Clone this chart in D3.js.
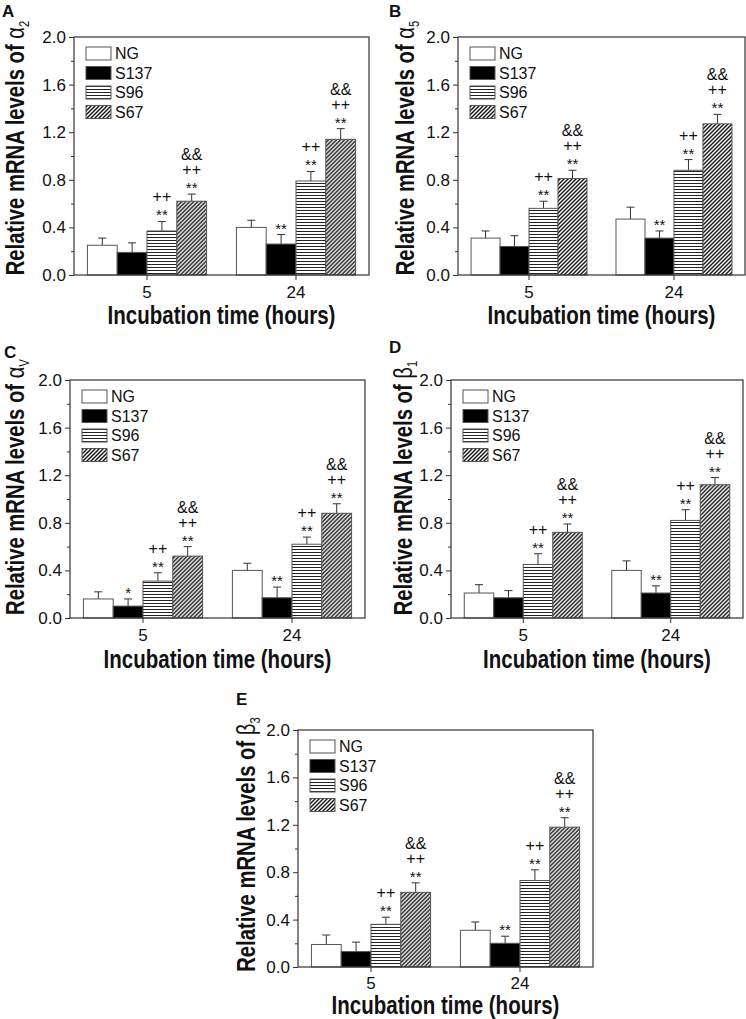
<!DOCTYPE html>
<html>
<head>
<meta charset="utf-8">
<script src="https://cdn.jsdelivr.net/npm/d3@7"></script>
<style>
  body { margin: 0; background: #fff; }
  text { font-family: "Liberation Sans", Arial, sans-serif; }
</style>
</head>
<body>
<script>

// Categories and tick labels
var groups = ["5", "24"];
var series = ["NG", "S137", "S96", "S67"];
var yTicks = [0.0, 0.4, 0.8, 1.2, 1.6, 2.0];
var yMinorTicks = [0.2, 0.6, 1.0, 1.4, 1.8];

// Means (rows = incubation time, columns = series)
var alpha2Mean = [[0.25, 0.19, 0.37, 0.62], [0.40, 0.26, 0.79, 1.14]];
var alpha2Err  = [[0.06, 0.08, 0.08, 0.06], [0.06, 0.08, 0.08, 0.09]];
var alpha2Sig  = [["", "", "**,++", "**,++,&&"], ["", "**", "**,++", "**,++,&&"]];

var alpha5Mean = [[0.31, 0.24, 0.56, 0.81], [0.47, 0.31, 0.88, 1.27]];
var alpha5Err  = [[0.06, 0.09, 0.06, 0.07], [0.10, 0.06, 0.09, 0.08]];
var alpha5Sig  = [["", "", "**,++", "**,++,&&"], ["", "**", "**,++", "**,++,&&"]];

var alphaVMean = [[0.16, 0.10, 0.31, 0.52], [0.40, 0.17, 0.62, 0.88]];
var alphaVErr  = [[0.06, 0.06, 0.07, 0.08], [0.06, 0.09, 0.06, 0.08]];
var alphaVSig  = [["", "*", "**,++", "**,++,&&"], ["", "**", "**,++", "**,++,&&"]];

var beta1Mean = [[0.21, 0.17, 0.45, 0.72], [0.40, 0.21, 0.82, 1.12]];
var beta1Err  = [[0.07, 0.06, 0.09, 0.07], [0.08, 0.06, 0.09, 0.06]];
var beta1Sig  = [["", "", "**,++", "**,++,&&"], ["", "**", "**,++", "**,++,&&"]];

var beta3Mean = [[0.19, 0.13, 0.36, 0.63], [0.31, 0.20, 0.73, 1.18]];
var beta3Err  = [[0.08, 0.08, 0.06, 0.08], [0.07, 0.06, 0.09, 0.08]];
var beta3Sig  = [["", "", "**,++", "**,++,&&"], ["", "**", "**,++", "**,++,&&"]];


// Panel layout
var panels = [
    { letter: "A", greek: "\u03B1", sub: "2", mean: alpha2Mean, err: alpha2Err, sig: alpha2Sig,
      left: 74, right: 369, top: 37, bottom: 275, lx: 2, ly: 17, tx: 24, ty: -8, tickPad: 6, titleDy: 49 },
    { letter: "B", greek: "\u03B1", sub: "5", mean: alpha5Mean, err: alpha5Err, sig: alpha5Sig,
      left: 458, right: 745, top: 37, bottom: 275, lx: 389, ly: 17, tx: 414, ty: -8, tickPad: 6, titleDy: 49 },
    { letter: "C", greek: "\u03B1", sub: "V", mean: alphaVMean, err: alphaVErr, sig: alphaVSig,
      left: 70, right: 365, top: 380, bottom: 618, lx: 4, ly: 358, tx: 24, ty: -12, tickPad: 6, titleDy: 50 },
    { letter: "D", greek: "\u03B2", sub: "1", mean: beta1Mean, err: beta1Err, sig: beta1Sig,
      left: 451, right: 743, top: 380, bottom: 618, lx: 389, ly: 353, tx: 412, ty: -11, tickPad: 6, titleDy: 50 },
    { letter: "E", greek: "\u03B2", sub: "3", mean: beta3Mean, err: beta3Err, sig: beta3Sig,
      left: 298, right: 593, top: 730, bottom: 967, lx: 236, ly: 705, tx: 255, ty: -4, tickPad: 5, titleDy: 47 }
];

var fills = { NG: "#fff", S137: "#000", S96: "url(#hlines)", S67: "url(#diag)" };

var svg = d3.select("body").append("svg")
            .attr("width", 746)
            .attr("height", 1019);

var defs = svg.append("defs");

var hl = defs.append("pattern")
    .attr("id", "hlines")
    .attr("patternUnits", "userSpaceOnUse")
    .attr("width", 6).attr("height", 3);
hl.append("rect").attr("width", 6).attr("height", 3).attr("fill", "#fff");
hl.append("line").attr("x1", 0).attr("x2", 6).attr("y1", 0.5).attr("y2", 0.5)
  .attr("stroke", "#222").attr("stroke-width", 1);

var dg = defs.append("pattern")
    .attr("id", "diag")
    .attr("patternUnits", "userSpaceOnUse")
    .attr("width", 4).attr("height", 4);
dg.append("rect").attr("width", 4).attr("height", 4).attr("fill", "#fff");
dg.append("path").attr("d", "M-1,1 L1,-1 M0,4 L4,0 M3,5 L5,3")
  .attr("stroke", "#111").attr("stroke-width", 1.4);

// significance symbols: stars, pluses, ampersands stacked above the error bar
var sigOffset = [1, 19, 34];
var sigSize = [15, 16, 16];

panels.forEach(function (p) {

    var g = svg.append("g");

    var y = d3.scaleLinear().domain([0, 2]).range([p.bottom, p.top]);
    var x0 = d3.scaleBand().domain(groups).range([p.left, p.right])
               .paddingInner(0.2).paddingOuter(0.09);
    var x1 = d3.scaleBand().domain(series).range([0, x0.bandwidth()]);

    // bars
    groups.forEach(function (grp, gi) {
        var gg = g.append("g").attr("transform", "translate(" + x0(grp) + ",0)");
        series.forEach(function (s, si) {
            var v = p.mean[gi][si], e = p.err[gi][si];
            var cx = x1(s) + x1.bandwidth() / 2;

            gg.append("line")
              .attr("x1", cx).attr("x2", cx)
              .attr("y1", y(v)).attr("y2", y(v + e))
              .attr("stroke", "#333").attr("stroke-width", 1);
            gg.append("line")
              .attr("x1", cx - 4).attr("x2", cx + 4)
              .attr("y1", y(v + e)).attr("y2", y(v + e))
              .attr("stroke", "#333").attr("stroke-width", 1);

            gg.append("rect")
              .attr("x", x1(s))
              .attr("y", y(v))
              .attr("width", x1.bandwidth())
              .attr("height", y(0) - y(v))
              .attr("fill", fills[s])
              .attr("stroke", "#555")
              .attr("stroke-width", 1);

            var marks = p.sig[gi][si] ? p.sig[gi][si].split(",") : [];
            marks.forEach(function (m, mi) {
                gg.append("text")
                  .attr("x", cx)
                  .attr("y", y(v + e) - sigOffset[mi])
                  .attr("text-anchor", "middle")
                  .attr("font-size", sigSize[mi])
                  .attr("fill", "#111")
                  .text(m);
            });
        });
    });

    // axes
    var yAxis = g.append("g")
       .attr("transform", "translate(" + p.left + ",0)")
       .call(d3.axisLeft(y).tickValues(yTicks).tickFormat(d3.format(".1f"))
               .tickSize(5).tickPadding(3).tickSizeOuter(0));
    yAxis.select(".domain").remove();
    yAxis.selectAll("text").attr("font-size", 17).attr("fill", "#111");
    yAxis.selectAll("line").attr("stroke", "#333");

    var yMinor = g.append("g")
       .attr("transform", "translate(" + p.left + ",0)")
       .call(d3.axisLeft(y).tickValues(yMinorTicks).tickFormat("").tickSize(3).tickSizeOuter(0));
    yMinor.select(".domain").remove();
    yMinor.selectAll("line").attr("stroke", "#333");

    var xAxis = g.append("g")
       .attr("transform", "translate(0," + p.bottom + ")")
       .call(d3.axisBottom(x0).tickSize(5).tickPadding(p.tickPad).tickSizeOuter(0));
    xAxis.select(".domain").remove();
    xAxis.selectAll("text").attr("font-size", 17).attr("fill", "#111");
    xAxis.selectAll("line").attr("stroke", "#333");

    // frame
    g.append("rect")
     .attr("x", p.left).attr("y", p.top)
     .attr("width", p.right - p.left).attr("height", p.bottom - p.top)
     .attr("fill", "none").attr("stroke", "#333").attr("stroke-width", 1.2);

    // legend
    var leg = g.append("g").attr("transform", "translate(" + (p.left + 12) + "," + (p.top + 10) + ")");
    series.forEach(function (s, si) {
        leg.append("rect")
           .attr("x", 0).attr("y", si * 19.5)
           .attr("width", 25).attr("height", 13)
           .attr("fill", fills[s]).attr("stroke", "#555").attr("stroke-width", 1);
        leg.append("text")
           .attr("x", 29).attr("y", si * 19.5 + 12)
           .attr("font-size", 16).attr("fill", "#111")
           .text(s);
    });

    // titles (narrow bold look: tall glyphs squeezed horizontally)
    g.append("text")
     .attr("transform", "translate(" + ((p.left + p.right) / 2) + "," + (p.bottom + p.titleDy) + ") scale(0.82,1)")
     .attr("text-anchor", "middle")
     .attr("font-size", 25).attr("font-weight", "bold").attr("fill", "#111")
     .text("Incubation time (hours)");

    var yt = g.append("text")
     .attr("transform", "translate(" + p.tx + "," + ((p.top + p.bottom) / 2 + p.ty) + ") rotate(-90) scale(0.81,1)")
     .attr("text-anchor", "middle")
     .attr("font-size", 25).attr("font-weight", "bold").attr("fill", "#111");
    yt.append("tspan").text("Relative mRNA levels of ");
    yt.append("tspan").attr("font-weight", "normal").text(p.greek);
    yt.append("tspan").attr("font-size", 14).attr("font-weight", "normal").attr("dy", 5).text(p.sub);

    g.append("text")
     .attr("x", p.lx).attr("y", p.ly)
     .attr("font-size", 17).attr("font-weight", "bold").attr("fill", "#111")
     .text(p.letter);
});

</script>
</body>
</html>
